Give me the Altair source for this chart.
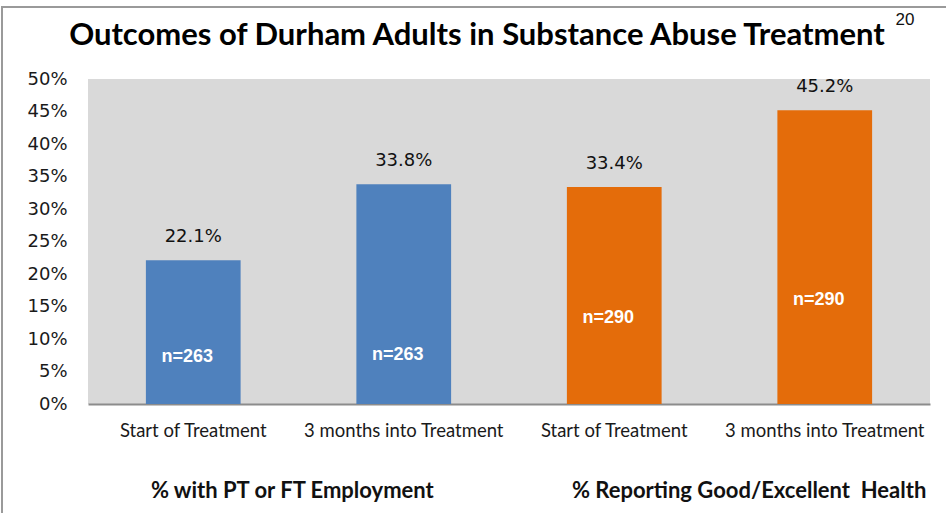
import altair as alt
import pandas as pd

# ---- data ----
groups = ["% with PT or FT Employment", "% with PT or FT Employment",
          "% Reporting Good/Excellent\u00a0 Health", "% Reporting Good/Excellent\u00a0 Health"]
timepoints = ["Start of Treatment", "3 months into Treatment",
              "Start of Treatment", "3 months into Treatment"]
values = [22.1, 33.8, 33.4, 45.2]
n_labels = ["n=263", "n=263", "n=290", "n=290"]
n_label_pos = [7.2, 7.5, 13.2, 16.0]   # where the n= labels sit, in axis units (%)
colors = ["#4F81BD", "#4F81BD", "#E46C0A", "#E46C0A"]
y_ticks = [0, 5, 10, 15, 20, 25, 30, 35, 40, 45, 50]
title_text = "Outcomes of Durham Adults in Substance Abuse Treatment"
page_number = "20"

keys = [f"{g}|{t}" for g, t in zip(groups, timepoints)]
df = pd.DataFrame({
    "key": keys,
    "group": groups,
    "time": timepoints,
    "value": values,
    "label": [f"{v:.1f}%" for v in values],
    "n": n_labels,
    "npos": n_label_pos,
    "color": colors,
})
group_df = df.drop_duplicates("group")

x_scale = alt.Scale(paddingInner=0.55, paddingOuter=0.275)
y_scale = alt.Scale(domain=[0, 50], nice=False)

x_axis = alt.Axis(
    labelExpr="split(datum.value, '|')[1]", labelAngle=0, labelLimit=0,
    labelFont="Lato", labelFontSize=18.5, labelColor="#1a1a1a",
    labelPadding=17, ticks=False, domainColor="#8c8c8c", domainWidth=2,
    grid=False,
)
y_axis = alt.Axis(
    values=y_ticks, labelExpr="datum.value + '%'", labelOverlap=False,
    labelFont="DejaVu Sans", labelFontSize=18, labelColor="#1a1a1a",
    labelPadding=21, ticks=False, domain=False, grid=False,
)


def xe(**kw):
    return alt.X("key:N", sort=keys, title=None, scale=x_scale, axis=x_axis, **kw)


def ye(field):
    return alt.Y(field, scale=y_scale, title=None, axis=y_axis)


base = alt.Chart(df)

bars = base.mark_bar().encode(
    x=xe(),
    y=ye("value:Q"),
    color=alt.Color("color:N", scale=None),
)

value_text = base.mark_text(
    font="DejaVu Sans", fontSize=18, color="#111111", baseline="middle", dy=-23
).encode(x=xe(), y=ye("value:Q"), text="label:N")

n_text = base.mark_text(
    font="Liberation Sans", fontWeight="bold", fontSize=18, color="white",
    baseline="middle", dx=-6
).encode(x=xe(), y=ye("npos:Q"), text="n:N")

group_text = alt.Chart(group_df).mark_text(
    font="Lato", fontWeight="bold", fontSize=22, color="#111111",
    align="left", baseline="middle", dx=5
).encode(
    x=xe(bandPosition=0),
    y=alt.value(412),
    text="group:N",
)

title_mark = alt.Chart(pd.DataFrame({"t": [title_text]})).mark_text(
    font="Lato", fontWeight="bold", fontSize=31, color="#000000",
    align="center", baseline="middle"
).encode(x=alt.value(389), y=alt.value(-43), text="t:N")

page_text = alt.Chart(pd.DataFrame({"t": [page_number]})).mark_text(
    font="Liberation Sans", fontSize=17, color="#111111", align="center",
    baseline="middle"
).encode(x=alt.value(817), y=alt.value(-59), text="t:N")

frame_top = alt.Chart(pd.DataFrame({"a": [0]})).mark_rule(
    color="#9a9a9a", strokeWidth=2
).encode(x=alt.value(-87), x2=alt.value(860), y=alt.value(-72))
frame_left = alt.Chart(pd.DataFrame({"a": [0]})).mark_rule(
    color="#9a9a9a", strokeWidth=2
).encode(x=alt.value(-86), y=alt.value(-72), y2=alt.value(440))

chart = alt.layer(
    bars, value_text, n_text, group_text, title_mark, page_text,
    frame_top, frame_left
).properties(
    width=842, height=325,
    padding={"left": 88, "top": 79, "right": 16, "bottom": 109},
    autosize="none",
    background="white",
).configure_view(fill="#D9D9D9", stroke=None)

chart.save("out.html", embed_options={"renderer": "svg", "actions": False})
